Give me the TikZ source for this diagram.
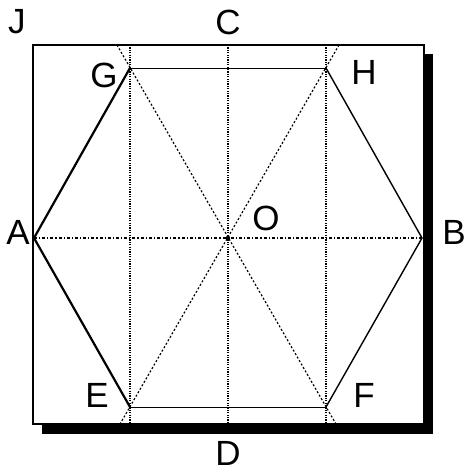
\documentclass[tikz,border=0pt]{standalone}
\usepackage{fontspec}
\setmainfont{Liberation Sans}
\usepackage{xcolor}
\usepackage{tikz}
\usetikzlibrary{calc}
\tikzset{
  ptlbl/.style={font=\fontsize{35}{35}\selectfont,inner sep=0pt},
  frameline/.style={draw=black,line width=1.5pt,fill=white},
  edgethick/.style={line width=2.2pt,line cap=round},
  edgemid/.style={line width=1.4pt,line cap=round},
  edgethin/.style={line width=1pt},
  vguide/.style={line width=1.3pt,dash pattern=on 1.2pt off 1.2pt},
  dguide/.style={line width=1.2pt,dash pattern=on 2pt off 2pt},
  hguide/.style={line width=1.2pt,dash pattern=on 3pt off 2pt on 1.2pt off 2pt},
}

\begin{document}
\begin{tikzpicture}[x=1pt,y=-1pt]
  \useasboundingbox (0,0) rectangle (466,472);
  % frame with its shadow
  \fill[black] (42,54) rectangle (433,434);
  \draw[frameline] (33,45) rectangle (424,424);

  \coordinate (O) at (228,238);
  \coordinate (A) at (34,238);
  \coordinate (B) at (422,238);
  \coordinate (G) at (130,68);
  \coordinate (H) at (326,68);
  \coordinate (E) at (130,407);
  \coordinate (F) at (326,407);
  \coordinate (Ctop) at (228,45);
  \coordinate (Dbot) at (228,424);
  \coordinate (Gtop) at (130,45);
  \coordinate (Ebot) at (130,424);
  \coordinate (Htop) at (326,45);
  \coordinate (Fbot) at (326,424);
  \coordinate (GFtop) at (117,45);
  \coordinate (GFbot) at (336,424);
  \coordinate (HEtop) at (339,45);
  \coordinate (HEbot) at (120,424);

  % guide lines
  \draw[vguide] (Gtop) -- (Ebot);
  \draw[vguide] (Ctop) -- (Dbot);
  \draw[vguide] (Htop) -- (Fbot);
  \draw[hguide] (A) -- (B);
  \draw[dguide] (GFtop) -- (GFbot);
  \draw[dguide] (HEtop) -- (HEbot);
  \fill (O) circle (2.2);

  % hexagon
  \draw[edgethick] (G) -- (A) -- (E);
  \draw[edgemid] (H) -- (B) -- (F);
  \draw[edgethin] (G) -- (H);
  \draw[edgethin] (E) -- (F);

  \node[ptlbl] (lJ) at (17,22) {J};
  \node[ptlbl] (lC) at (228,22) {C};
  \node[ptlbl] (lG) at (104,75) {G};
  \node[ptlbl] (lH) at (364,72) {H};
  \node[ptlbl] (lA) at (18,232) {A};
  \node[ptlbl] (lB) at (454,232) {B};
  \node[ptlbl] (lO) at (266,218) {O};
  \node[ptlbl] (lE) at (97,395) {E};
  \node[ptlbl] (lF) at (364,395) {F};
  \node[ptlbl] (lD) at (228,453) {D};
\end{tikzpicture}
\end{document}
